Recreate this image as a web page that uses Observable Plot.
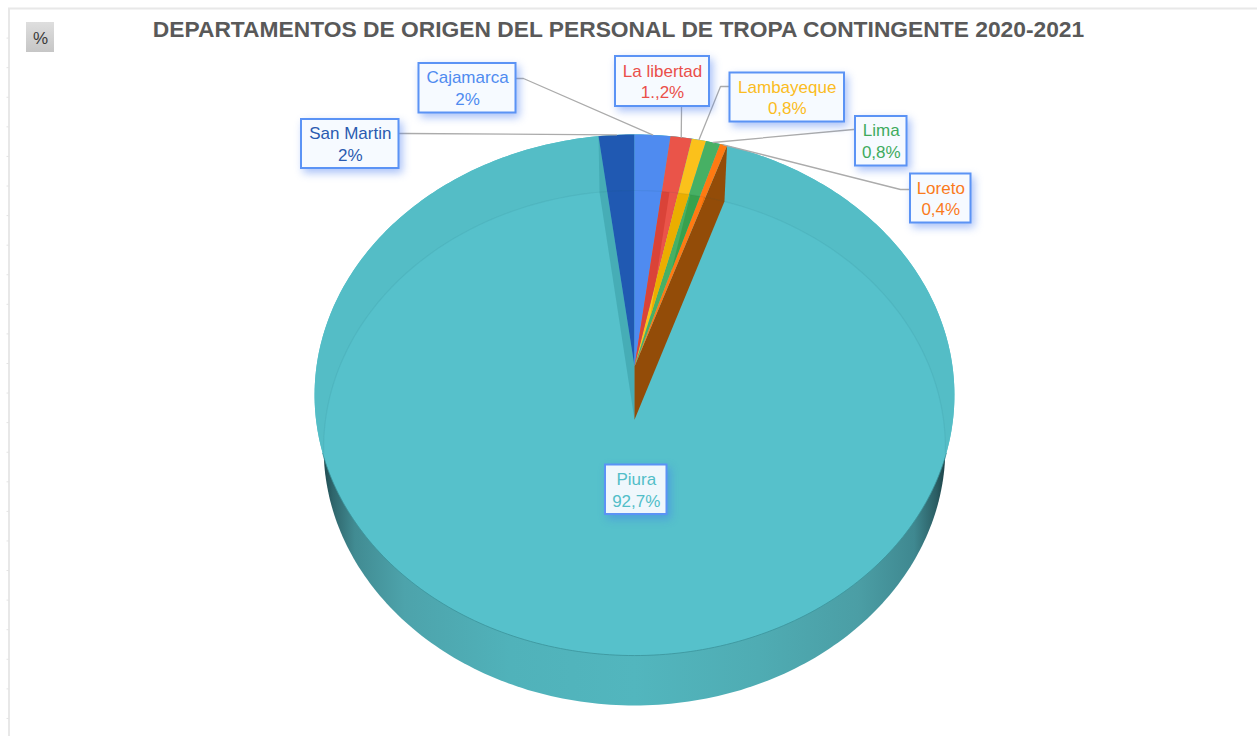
<!DOCTYPE html>
<html lang="es">
<head>
<meta charset="utf-8">
<title>Departamentos de origen</title>
<style>html,body{margin:0;padding:0;background:#fff}svg{display:block}</style>
<script src="https://cdn.jsdelivr.net/npm/d3@7"></script>
<script src="https://cdn.jsdelivr.net/npm/@observablehq/plot@0.6"></script>
</head>
<body>
<div id="chart"></div>
<script>
// ---- data ----
const titleText = "DEPARTAMENTOS DE ORIGEN DEL PERSONAL DE TROPA CONTINGENTE 2020-2021";
const unitText = "%";
const departments = ["San Martin", "Cajamarca", "La libertad", "Lambayeque", "Lima", "Loreto", "Piura"];
const shares = [2, 2, 1.2, 0.8, 0.8, 0.4, 92.7];
const shareLabels = ["2%", "2%", "1.,2%", "0,8%", "0,8%", "0,4%", "92,7%"];

// ---- styles ----
const sliceColors = ["#2059B2", "#4F8BF0", "#EA5449", "#FBC11B", "#47B064", "#FF7A12", "#56C1CB"];
const overlapColors = ["#2059B2", "#4F8BF0", "#DA4338", "#EBAE00", "#38A14D", "#EE6A00", "#56C1CB"];
const labelColors = ["#2A5BB0", "#4F8BF0", "#EA4F4A", "#FBBC22", "#3EAB5E", "#FA7A1C", "#52BEC8"];

// ---- callout layout: box edges and the elbow of each leader ----
const boxLeft = [301, 418.5, 615, 729.5, 855, 910, 605];
const boxRight = [398.5, 515.5, 709, 844, 906.5, 970.5, 666.5];
const boxTop = [119, 63, 56, 72.5, 116, 173.5, 464.5];
const boxBottom = [168, 112.5, 106, 121.5, 165.5, 222.5, 514];
const leaderStartX = [398.5, 515.5, 681, 729.5, 855, 910, null];
const leaderStartY = [133, 78, 106, 86, 129, 189, null];
const leaderElbowX = [405, 523, 681, 720, 853, 900, null];
const leaderElbowY = [133, 78, 112, 86, 129, 189, null];
const sheetTicks = d3.range(24).map(i => 37.6 + i * 29.58);

// ---- the 3D pie: perspective planes of the top face and the floor ----
const topFace = {cx: 634, cy: 366, A: 318, B: 257.4, k: 0.1095};
const floorFace = {cx: 634, cy: 419.3, A: 309, B: 254.4, k: 0.1095};
const project = (p, deg) => {
  const t = deg * Math.PI / 180, w = 1 + p.k * Math.cos(t);
  return {x: p.cx + p.A * Math.sin(t) / w, y: p.cy - p.B * Math.cos(t) / w};
};
const arc = (p, a, b) => {
  const n = Math.max(2, Math.ceil(Math.abs(b - a)));
  return d3.range(n + 1).map(i => project(p, a + (b - a) * i / n));
};
const centre = p => ({x: p.cx, y: p.cy});

const total = d3.sum(shares);
let running = -shares[0];
const slices = departments.map((name, i) => {
  const a = running / total * 360;
  running += shares[i];
  const b = running / total * 360;
  return {
    name, i, a, b, mid: (a + b) / 2,
    top: [centre(topFace), ...arc(topFace, a, b)],
    floor: [centre(floorFace), ...arc(floorFace, a, b)]
  };
});

// convex clip (Sutherland-Hodgman) for where a top face shows the neighbour's floor through it
function clip(subject, clipper) {
  const area = -d3.polygonArea(clipper.map(d => [d.x, d.y]));
  const inside = (q, s, e) => ((e.x - s.x) * (q.y - s.y) - (e.y - s.y) * (q.x - s.x)) * area >= 0;
  const cross = (p, q, s, e) => {
    const d = (p.x - q.x) * (s.y - e.y) - (p.y - q.y) * (s.x - e.x);
    const u = ((p.x - s.x) * (s.y - e.y) - (p.y - s.y) * (s.x - e.x)) / d;
    return {x: p.x + (q.x - p.x) * u, y: p.y + (q.y - p.y) * u};
  };
  let out = subject;
  clipper.forEach((s, j) => {
    const e = clipper[(j + 1) % clipper.length], input = out;
    out = [];
    input.forEach((p, m) => {
      const q = input[(m + 1) % input.length];
      if (inside(p, s, e)) { out.push(p); if (!inside(q, s, e)) out.push(cross(p, q, s, e)); }
      else if (inside(q, s, e)) out.push(cross(p, q, s, e));
    });
  });
  return out;
}

const tops = slices.slice(0, 6).flatMap(s => s.top.map(d => ({...d, id: s.name, fill: sliceColors[s.i]})));
const overlaps = slices.slice(2, 6).flatMap(s =>
  clip(s.top, slices[s.i - 1].floor).map(d => ({...d, id: s.name, fill: overlapColors[s.i]})));

const first = slices[0], last = slices[5];
const leftWall = [project(topFace, first.a), project(floorFace, first.a), centre(floorFace), centre(topFace)];
const rightWall = [project(topFace, last.b), project(floorFace, last.b), centre(floorFace), centre(topFace)];
const wholeTop = arc(topFace, 0, 360);
const wholeFloor = arc(floorFace, 0, 360);
const backBand = [...arc(topFace, -109, 109), ...arc(floorFace, 97.3, -97.3)];
const backArc = arc(floorFace, -97.3, 97.3);
const frontRim = arc(topFace, 109, 251);

const callouts = slices.map(s => ({
  name: s.name, i: s.i,
  x1: boxLeft[s.i], x2: boxRight[s.i], y1: boxTop[s.i], y2: boxBottom[s.i],
  text: s.name + "\n" + shareLabels[s.i], color: labelColors[s.i]
}));
const leaders = slices.slice(0, 6).flatMap(s => [
  {id: s.name, x: leaderStartX[s.i], y: leaderStartY[s.i]},
  {id: s.name, x: leaderElbowX[s.i], y: leaderElbowY[s.i]},
  {id: s.name, ...project(topFace, s.mid)}
]);

const gradient = (id, x2, y2, stops) => () => {
  const defs = d3.create("svg:defs");
  const g = defs.append("linearGradient").attr("id", id).attr("x1", 0).attr("y1", 0).attr("x2", x2).attr("y2", y2);
  stops.forEach(([o, c]) => g.append("stop").attr("offset", o).attr("stop-color", c));
  return defs.node();
};
const poly = (data, fill, extra = {}) => Plot.line(data, {x: "x", y: "y", fill, stroke: "none", ...extra});
const font = "Liberation Sans, Arial, sans-serif";

const chart = Plot.plot({
  width: 1257, height: 736,
  marginTop: 0, marginRight: 0, marginBottom: 0, marginLeft: 0,
  x: {domain: [0, 1257], range: [0, 1257], axis: null},
  y: {domain: [0, 736], range: [0, 736], axis: null},
  color: {type: "identity"},
  style: {background: "#fff", fontFamily: font},
  marks: [
    gradient("sideWall", 1, 0, [[0, "#1F4A50"], [0.015, "#2F666C"], [0.05, "#418B92"], [0.13, "#4DA3AB"], [0.3, "#50B2BA"], [0.5, "#52B6BE"], [0.7, "#4FACB3"], [0.86, "#4B9EA5"], [0.95, "#3F8890"], [0.985, "#2B5E64"], [1, "#1C4247"]]),
    gradient("unitButton", 0, 1, [[0, "#DEDEDE"], [1, "#C6C6C6"]]),

    // sheet frame
    Plot.ruleY([8], {x1: 8, x2: 1257, stroke: "#E8E8E8", strokeWidth: 2}),
    Plot.ruleX([8.5], {y1: 8, y2: 736, stroke: "#E8E8E8", strokeWidth: 2}),
    Plot.ruleY(sheetTicks, {x1: 6.5, x2: 9, stroke: "#E4E4E4"}),

    // unit button
    Plot.rect([{}], {x1: () => 26, x2: () => 54, y1: () => 22, y2: () => 52, fill: "url(#unitButton)"}),
    Plot.text([unitText], {x: () => 40, y: () => 38, text: d => d, fontSize: 17, fill: "#3A3A3A", fontFamily: font}),

    // title
    Plot.text([titleText], {x: () => 618, y: () => 29, text: d => d, fontSize: 22.8, fontWeight: "bold", fill: "#595959", fontFamily: font}),

    // pie
    poly(wholeFloor, "url(#sideWall)"),
    poly(wholeTop, "#56C1CB"),
    poly(backBand, "#54BDC6"),
    Plot.line(frontRim, {x: "x", y: "y", stroke: "#3B939B", strokeWidth: 0.8}),
    poly(leftWall, "#46ADB6"),
    poly(rightWall, "#934C08"),
    Plot.line(tops, {x: "x", y: "y", z: "id", fill: "fill", stroke: "none"}),
    Plot.line(overlaps, {x: "x", y: "y", z: "id", fill: "fill", stroke: "none"}),
    Plot.line(backArc, {x: "x", y: "y", stroke: "#1C5A62", strokeOpacity: 0.08, strokeWidth: 1.2}),

    // callouts
    Plot.line(leaders, {x: "x", y: "y", z: "id", stroke: "#ABABAB", strokeWidth: 1.3}),
    Plot.rect(callouts, {
      x1: "x1", x2: "x2", y1: "y1", y2: "y2",
      fill: d => d.name === "Piura" ? "#EFF7FC" : "#F6FAFF",
      stroke: "#5B93F5", strokeWidth: 2,
      imageFilter: "drop-shadow(3px 4px 4px rgba(66,120,240,.45))"
    }),
    Plot.text(callouts, {
      x: d => (d.x1 + d.x2) / 2, y: d => (d.y1 + d.y2) / 2 - 1,
      text: "text", fill: "color", fontSize: 17, lineHeight: 1.29, fontFamily: font
    })
  ]
});
document.getElementById("chart").append(chart);
</script>
</body>
</html>
